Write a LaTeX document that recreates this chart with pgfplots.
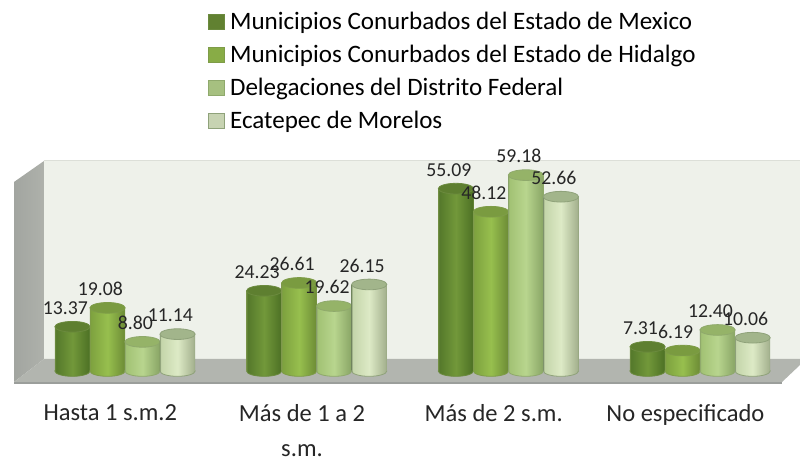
\documentclass[border=0pt]{standalone}
\usepackage{pgfplots}
\pgfplotsset{compat=1.18}
\usepackage{pgfplotstable}
\usepackage{fontspec}
\setmainfont{Carlito}
\definecolor{aL}{HTML}{55792B}\definecolor{aM}{HTML}{72983A}\definecolor{aR}{HTML}{4F7326}\definecolor{aT}{HTML}{5E7F30}\definecolor{aE}{HTML}{6B8A3E}
\definecolor{bL}{HTML}{7EA23F}\definecolor{bM}{HTML}{97BF4E}\definecolor{bR}{HTML}{6F8F37}\definecolor{bT}{HTML}{7A9B40}\definecolor{bE}{HTML}{7E9C48}
\definecolor{cL}{HTML}{A2C274}\definecolor{cM}{HTML}{B8D58E}\definecolor{cR}{HTML}{8CA868}\definecolor{cT}{HTML}{95B368}\definecolor{cE}{HTML}{8FA96C}
\definecolor{dL}{HTML}{C4D5AA}\definecolor{dM}{HTML}{DDEAC6}\definecolor{dR}{HTML}{A6B390}\definecolor{dT}{HTML}{A2B58B}\definecolor{dE}{HTML}{8FA27A}
\pgfdeclarehorizontalshading{shA}{100bp}{color(0bp)=(aE);color(25bp)=(aE);color(26.5bp)=(aL);color(50bp)=(aM);color(73bp)=(aR);color(75bp)=(aE);color(100bp)=(aE)}
\pgfdeclarehorizontalshading{shB}{100bp}{color(0bp)=(bE);color(25bp)=(bE);color(26.5bp)=(bL);color(50bp)=(bM);color(73bp)=(bR);color(75bp)=(bE);color(100bp)=(bE)}
\pgfdeclarehorizontalshading{shC}{100bp}{color(0bp)=(cE);color(25bp)=(cE);color(26.5bp)=(cL);color(50bp)=(cM);color(73bp)=(cR);color(75bp)=(cE);color(100bp)=(cE)}
\pgfdeclarehorizontalshading{shD}{100bp}{color(0bp)=(dE);color(25bp)=(dE);color(26.5bp)=(dL);color(50bp)=(dM);color(73bp)=(dR);color(75bp)=(dE);color(100bp)=(dE)}
\newcommand\cylpath{\pgfpathellipse{\pgfpointorigin}{\pgfqpoint{13.2pt}{0pt}}{\pgfqpoint{0pt}{4pt}}}
\pgfdeclareplotmark{cyltop}{\cylpath\pgfusepathqfillstroke}
\pgfdeclareplotmark{baseA}{\cylpath\pgfshadepath{shA}{0}\pgfusepathqstroke}
\pgfdeclareplotmark{baseB}{\cylpath\pgfshadepath{shB}{0}\pgfusepathqstroke}
\pgfdeclareplotmark{baseC}{\cylpath\pgfshadepath{shC}{0}\pgfusepathqstroke}
\pgfdeclareplotmark{baseD}{\cylpath\pgfshadepath{shD}{0}\pgfusepathqstroke}
\pgfplotstableread{
x y
0 13.37
1 24.23
2 55.09
3 7.31
}\dataA
\pgfplotstableread{
x y
0 19.08
1 26.61
2 48.12
3 6.19
}\dataB
\pgfplotstableread{
x y
0 8.80
1 19.62
2 59.18
3 12.40
}\dataC
\pgfplotstableread{
x y
0 11.14
1 26.15
2 52.66
3 10.06
}\dataD
\pgfplotstableread{
x y
0 0
1 0
2 0
3 0
}\dataZero
% one bar: table, shift, letter, shading, domain
\newcommand\onebar[5]{%
  \addplot[ybar, forget plot, bar width=26.4pt, bar shift=#2, draw=none, shading=#4, restrict x to domain=#5] table[x=x,y=y] {#1};
}
% table, shift, letter, base mark, shading
\newcommand\cyl[5]{%
  \addplot[only marks, forget plot, mark=#4, xshift=#2, mark options={draw=#3E, line width=.6pt}] table[x=x,y=y] {\dataZero};
  \onebar{#1}{#2}{#3}{#5}{-0.1:0.1}\onebar{#1}{#2}{#3}{#5}{0.9:1.1}\onebar{#1}{#2}{#3}{#5}{1.9:2.1}\onebar{#1}{#2}{#3}{#5}{2.9:3.1}
  \addplot[only marks, forget plot, mark=cyltop, xshift=#2, mark options={draw=#3E, fill=#3T, line width=.6pt}] table[x=x,y=y] {#1};
}
\newcommand\lab[2]{%
  \addplot[draw=none, mark=none, forget plot, xshift=#2, nodes near coords, point meta=y,
    nodes near coords style={font=\fontsize{14.8}{17}\selectfont, text=black!85, anchor=south, inner sep=0pt, xshift=-5.3pt, yshift=8.8pt,
      /pgf/number format/fixed, /pgf/number format/fixed zerofill, /pgf/number format/precision=2, /pgf/number format/assume math mode=true}] table[x=x,y=y] {#1};
}
\begin{document}
\begin{tikzpicture}
\begin{scope}[x=.75pt,y=-.75pt]
\useasboundingbox (0,0) rectangle (800,456);
\fill[white] (0,0) rectangle (800,456);
\fill[color={rgb,255:red,238;green,241;blue,234}] (44,160) rectangle (800,360);
\draw[color={rgb,255:red,220;green,223;blue,216},line width=.8pt] (44,160.5) -- (800,160.5);
\shade[left color={rgb,255:red,162;green,165;blue,160}, right color={rgb,255:red,174;green,177;blue,171}] (14,182) -- (44,161) -- (44,359) -- (14,382) -- cycle;
\fill[color={rgb,255:red,178;green,181;blue,175}] (44,359) -- (800,359) -- (800,365) -- (782,382) -- (14,382) -- cycle;
\fill[color={rgb,255:red,155;green,158;blue,155}] (14,382) rectangle (782,384);
\end{scope}
\begin{axis}[
  at={(21.86pt,-278.25pt)}, anchor=south west,
  scale only axis, width=575.1pt, height=148.95pt,
  xmin=-0.5, xmax=3.5, ymin=0, ymax=60,
  axis line style={draw=none}, major tick length=0pt, clip=false, clip marker paths=true,
  axis x line*=bottom, axis y line*=left, ytick=\empty,
  xtick={0,1,2,3},
  xticklabels={Hasta 1 s.m.2,{Más de 1 a 2\\[4pt] s.m.},Más de 2 s.m.,No especificado},
  xticklabel style={font=\fontsize{18.4}{22}\selectfont, align=center, text=black!85, xshift=-11pt, yshift=-21.5pt},
  legend cell align=left,
  legend style={draw=none, fill=none, at={(0.2332,1.82)}, anchor=north west,
    font=\fontsize{18.8}{22}\selectfont, row sep=6.2pt, inner sep=0pt},
]
\cyl{\dataA}{-39.4pt}{a}{baseA}{shA}
\cyl{\dataB}{-13.1pt}{b}{baseB}{shB}
\cyl{\dataC}{13.1pt}{c}{baseC}{shC}
\cyl{\dataD}{39.4pt}{d}{baseD}{shD}
\lab{\dataA}{-39.4pt}
\lab{\dataB}{-13.1pt}
\lab{\dataC}{13.1pt}
\lab{\dataD}{39.4pt}
\addlegendimage{legend image code/.code={\fill[color=aM!85!black,draw=aE] (0pt,-5.6pt) rectangle (11.5pt,5.6pt);\path (14pt,0pt);}}
\addlegendentry{Municipios Conurbados del Estado de Mexico}
\addlegendimage{legend image code/.code={\fill[color=bM!90!black,draw=bE] (0pt,-5.6pt) rectangle (11.5pt,5.6pt);\path (14pt,0pt);}}
\addlegendentry{Municipios Conurbados del Estado de Hidalgo}
\addlegendimage{legend image code/.code={\fill[color=cM!90!black,draw=cE] (0pt,-5.6pt) rectangle (11.5pt,5.6pt);\path (14pt,0pt);}}
\addlegendentry{Delegaciones del Distrito Federal}
\addlegendimage{legend image code/.code={\fill[color=dM!90!black,draw=dE] (0pt,-5.6pt) rectangle (11.5pt,5.6pt);\path (14pt,0pt);}}
\addlegendentry{Ecatepec de Morelos}
\end{axis}
\end{tikzpicture}
\end{document}
